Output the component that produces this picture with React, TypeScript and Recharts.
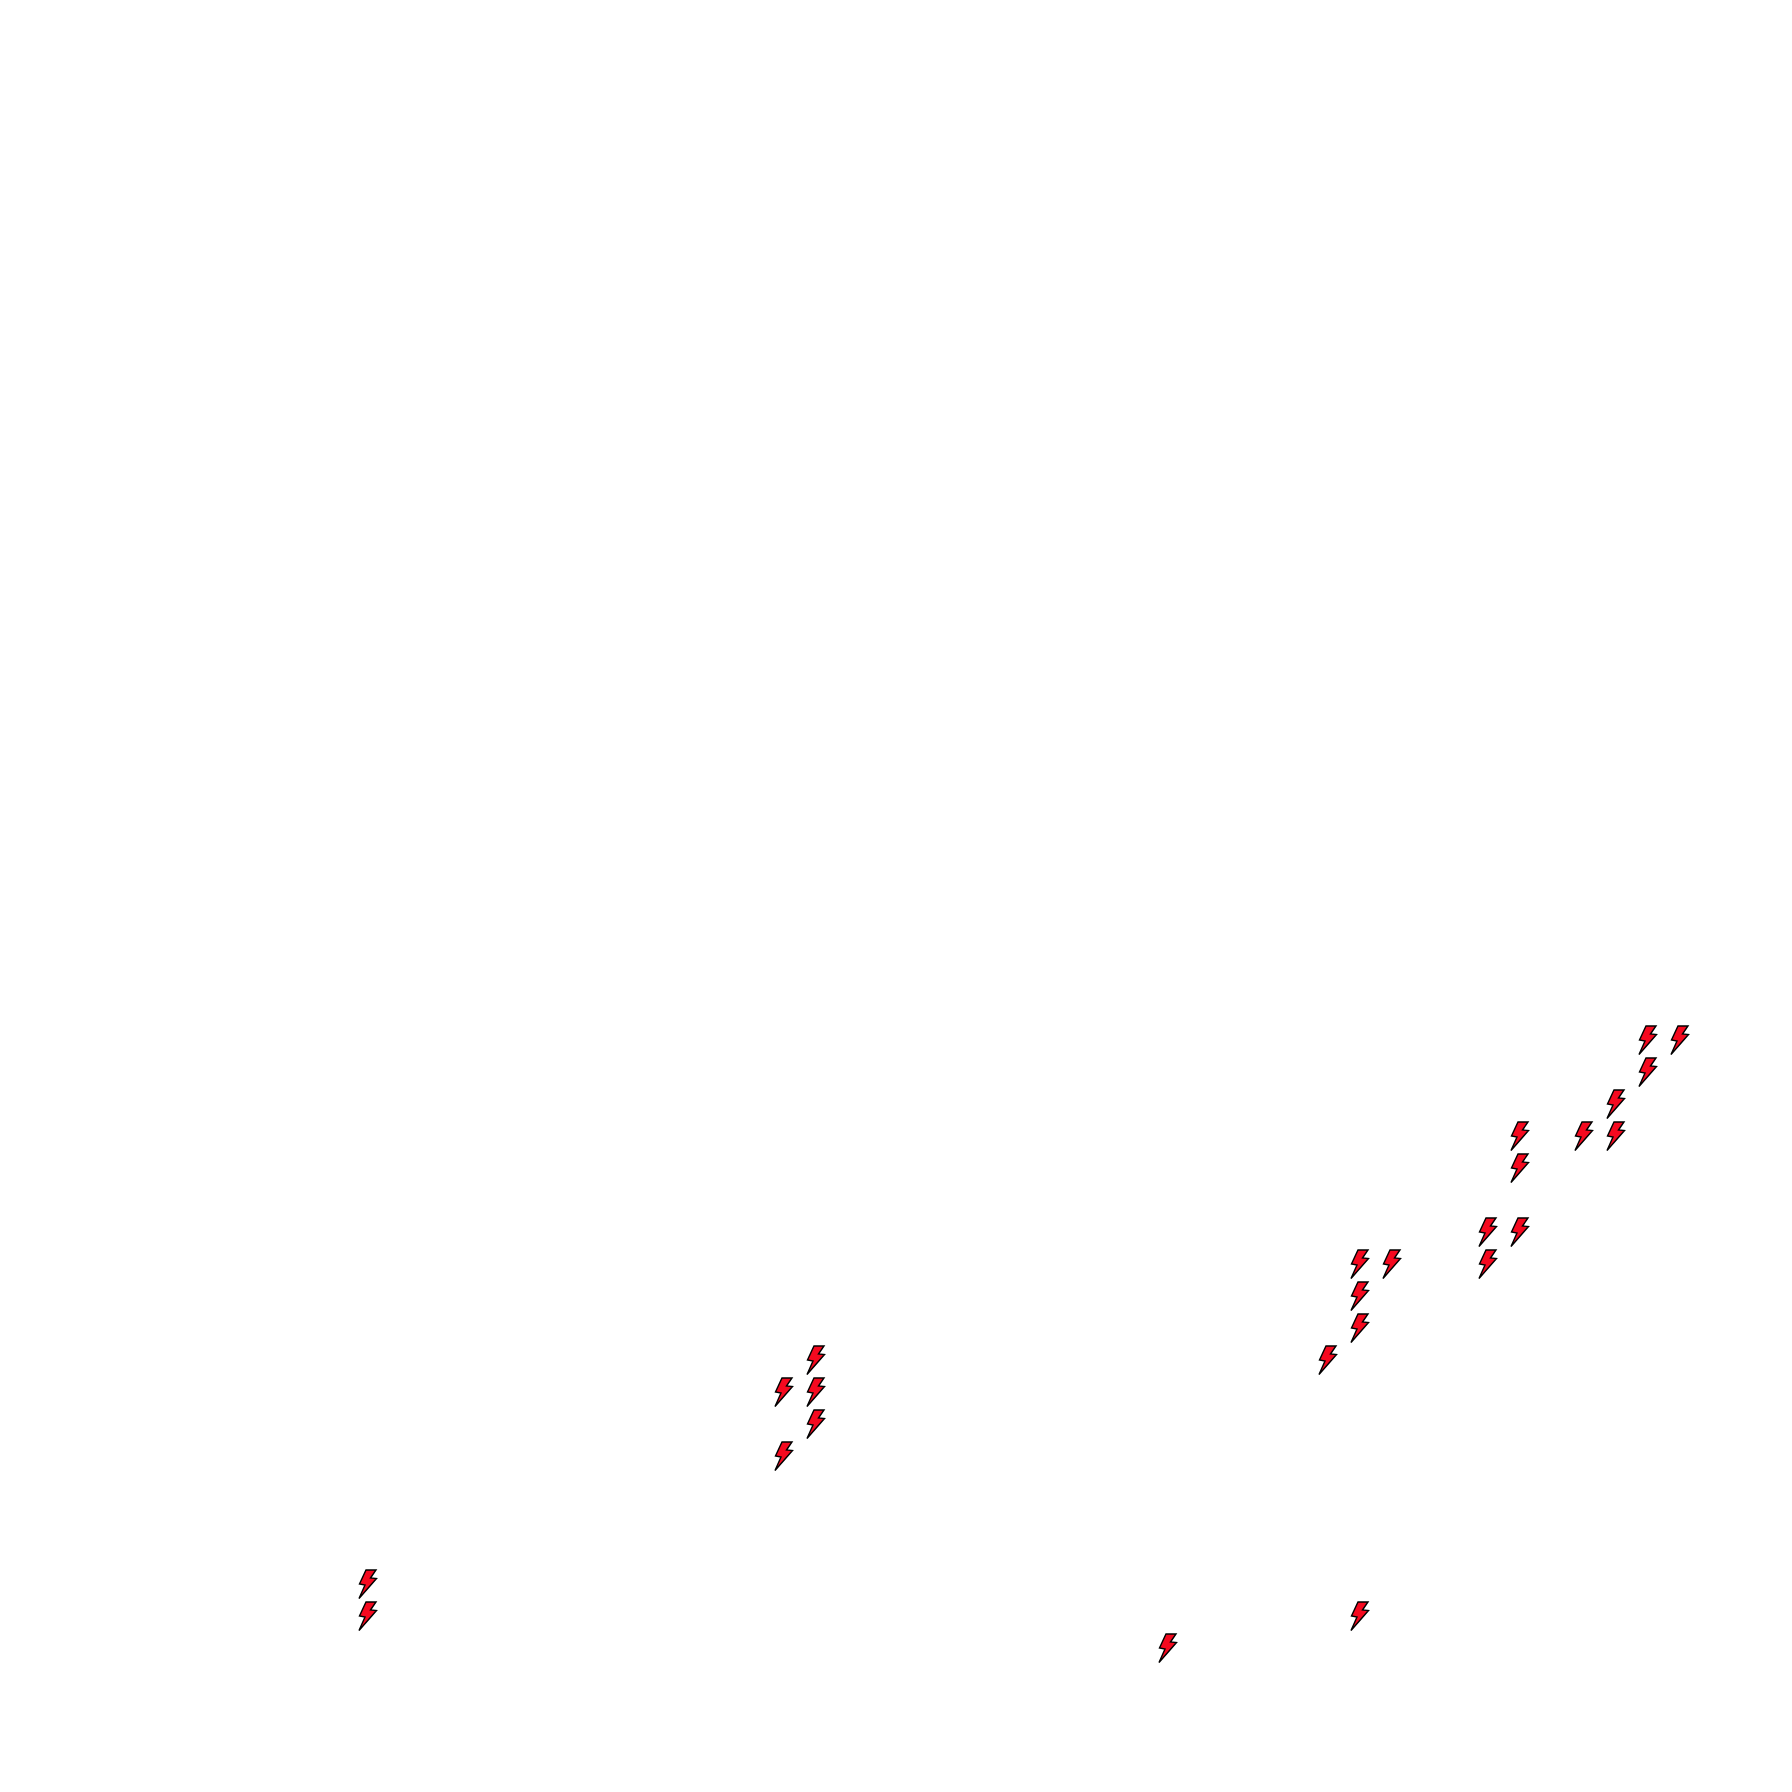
import { Scatter, ScatterChart, XAxis, YAxis } from "recharts"

// grid cells, 56 x 56, row 0 at the bottom
const columns = [11, 11, 24, 24, 25, 25, 25, 36, 41, 42, 42, 42, 42, 43, 46, 46, 47, 47, 47, 49, 50, 50, 51, 51, 52]
const rows = [6, 5, 12, 10, 13, 12, 11, 4, 13, 16, 15, 14, 5, 16, 17, 16, 20, 19, 17, 20, 21, 20, 23, 22, 23]

const data = columns.map((col, i) => ({ col, row: rows[i] }))

function Bolt({ cx, cy }: { cx?: number; cy?: number }) {
  return (
    <path
      transform={`translate(${cx},${cy})`}
      d="M-2,-14 L8,-14 L2.5,-6 L8.5,-5.5 L-9,14.5 L-3,1 L-8.5,0 Z"
      fill="#f5091f"
      stroke="#000"
      strokeWidth={1.4}
      strokeLinejoin="miter"
    />
  )
}

export default function App() {
  return (
    <div style={{ position: "absolute", left: 0, top: 0, width: 1792, height: 1792, background: "#fff" }}>
      <ScatterChart width={1792} height={1792} margin={{ top: 0, right: 0, bottom: 0, left: 0 }}>
        <XAxis type="number" dataKey="col" domain={[-0.5, 55.5]} hide />
        <YAxis type="number" dataKey="row" domain={[-0.5, 55.5]} hide />
        <Scatter data={data} shape={<Bolt />} isAnimationActive={false} />
      </ScatterChart>
    </div>
  )
}
